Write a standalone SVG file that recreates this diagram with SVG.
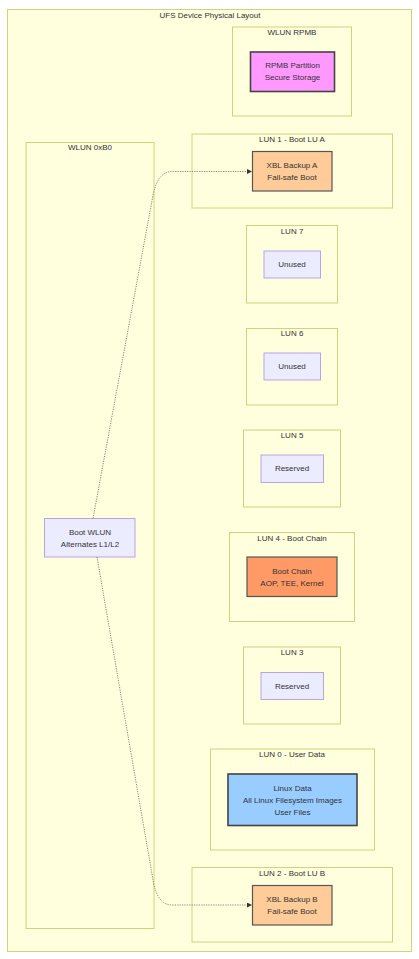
<svg xmlns="http://www.w3.org/2000/svg" width="419" height="959" viewBox="0 0 419 959">
<style>
.bg{fill:#ffffff}
.cl{fill:#ffffde;stroke:#d2d27e;stroke-width:1}
.nd{fill:#ececff;stroke:#b9a3e6;stroke-width:1}
.rpmb{fill:#ff99ff;stroke:#444444;stroke-width:1.6}
.xbl{fill:#ffcc99;stroke:#555555;stroke-width:1.2}
.boot{fill:#ff9966;stroke:#555555;stroke-width:1.2}
.linux{fill:#99ccff;stroke:#444444;stroke-width:1.6}
text{font-family:"Liberation Sans",Arial,sans-serif;font-size:8px;fill:#333333;text-anchor:middle;dominant-baseline:central}
.edge{fill:none;stroke:#666666;stroke-width:0.8;stroke-dasharray:1.2 1.2}
</style>
<defs>
<marker id="arr" viewBox="0 0 10 10" refX="9" refY="5" markerWidth="5" markerHeight="5" orient="auto" markerUnits="userSpaceOnUse">
<path d="M0,0 L10,5 L0,10 z" fill="#333333"/>
</marker>
</defs>
<rect class="bg" x="0" y="0" width="419" height="959"/>
<g id="cluster-ufs">
<rect class="cl" x="7.5" y="9.5" width="404" height="942"/>
<text x="210" y="15">UFS Device Physical Layout</text>
</g>
<g id="cluster-wlun-rpmb">
<rect class="cl" x="232.5" y="27" width="119" height="89"/>
<text x="292" y="32.5">WLUN RPMB</text>
</g>
<g id="cluster-lun1">
<rect class="cl" x="192" y="134" width="200.5" height="74"/>
<text x="292" y="139.5">LUN 1 - Boot LU A</text>
</g>
<g id="cluster-wlun-b0">
<rect class="cl" x="26" y="142.5" width="128" height="786"/>
<text x="90" y="147.5">WLUN 0xB0</text>
</g>
<g id="cluster-lun7">
<rect class="cl" x="246.5" y="225.5" width="91" height="77.5"/>
<text x="292" y="231">LUN 7</text>
</g>
<g id="cluster-lun6">
<rect class="cl" x="246.5" y="328.5" width="91" height="76.5"/>
<text x="292" y="333.5">LUN 6</text>
</g>
<g id="cluster-lun5">
<rect class="cl" x="243.5" y="430" width="97" height="77"/>
<text x="292" y="435.5">LUN 5</text>
</g>
<g id="cluster-lun4">
<rect class="cl" x="229.5" y="532.5" width="125" height="89"/>
<text x="292" y="538">LUN 4 - Boot Chain</text>
</g>
<g id="cluster-lun3">
<rect class="cl" x="243.5" y="647" width="97" height="77"/>
<text x="292" y="652.5">LUN 3</text>
</g>
<g id="cluster-lun0">
<rect class="cl" x="210.5" y="749" width="164" height="101"/>
<text x="292" y="754.5">LUN 0 - User Data</text>
</g>
<g id="cluster-lun2">
<rect class="cl" x="192" y="867.5" width="200.5" height="74.5"/>
<text x="292" y="873.5">LUN 2 - Boot LU B</text>
</g>
<g id="node-rpmb">
<rect class="rpmb" x="250.5" y="52" width="84" height="39.5"/>
<text x="292.5" y="65.5">RPMB Partition</text>
<text x="292.5" y="77.5">Secure Storage</text>
</g>
<g id="node-xbl-a">
<rect class="xbl" x="252.5" y="151.5" width="79.5" height="39.5"/>
<text x="292" y="165">XBL Backup A</text>
<text x="292" y="177">Fail-safe Boot</text>
</g>
<g id="node-lun7">
<rect class="nd" x="264" y="251" width="56.5" height="27"/>
<text x="292" y="264.5">Unused</text>
</g>
<g id="node-lun6">
<rect class="nd" x="264" y="353" width="56.5" height="27"/>
<text x="292" y="366.5">Unused</text>
</g>
<g id="node-lun5">
<rect class="nd" x="261" y="455" width="62.5" height="27.5"/>
<text x="292" y="468.5">Reserved</text>
</g>
<g id="node-bootchain">
<rect class="boot" x="247" y="557" width="90" height="39.5"/>
<text x="292" y="571">Boot Chain</text>
<text x="292" y="583">AOP, TEE, Kernel</text>
</g>
<g id="node-lun3">
<rect class="nd" x="261" y="672.5" width="62.5" height="27"/>
<text x="292" y="686">Reserved</text>
</g>
<g id="node-linux">
<rect class="linux" x="228" y="774" width="129" height="51.5"/>
<text x="292.5" y="788">Linux Data</text>
<text x="292.5" y="800">All Linux Filesystem Images</text>
<text x="292.5" y="812">User Files</text>
</g>
<g id="node-xbl-b">
<rect class="xbl" x="252.5" y="885.5" width="79.5" height="39.5"/>
<text x="292" y="899">XBL Backup B</text>
<text x="292" y="911">Fail-safe Boot</text>
</g>
<g id="node-bootwlun">
<rect class="nd" x="44.5" y="518.5" width="90.5" height="38.5"/>
<text x="90" y="532">Boot WLUN</text>
<text x="90" y="544">Alternates L1/L2</text>
</g>
<g id="connectors">
<path class="edge" d="M93,518.5 L152.5,198 Q157,171.5 172,171.5 L251.5,171.5" marker-end="url(#arr)"/>
<path class="edge" d="M97,557 L153,880 Q157,905 172,905 L251.5,905" marker-end="url(#arr)"/>
</g>
</svg>
